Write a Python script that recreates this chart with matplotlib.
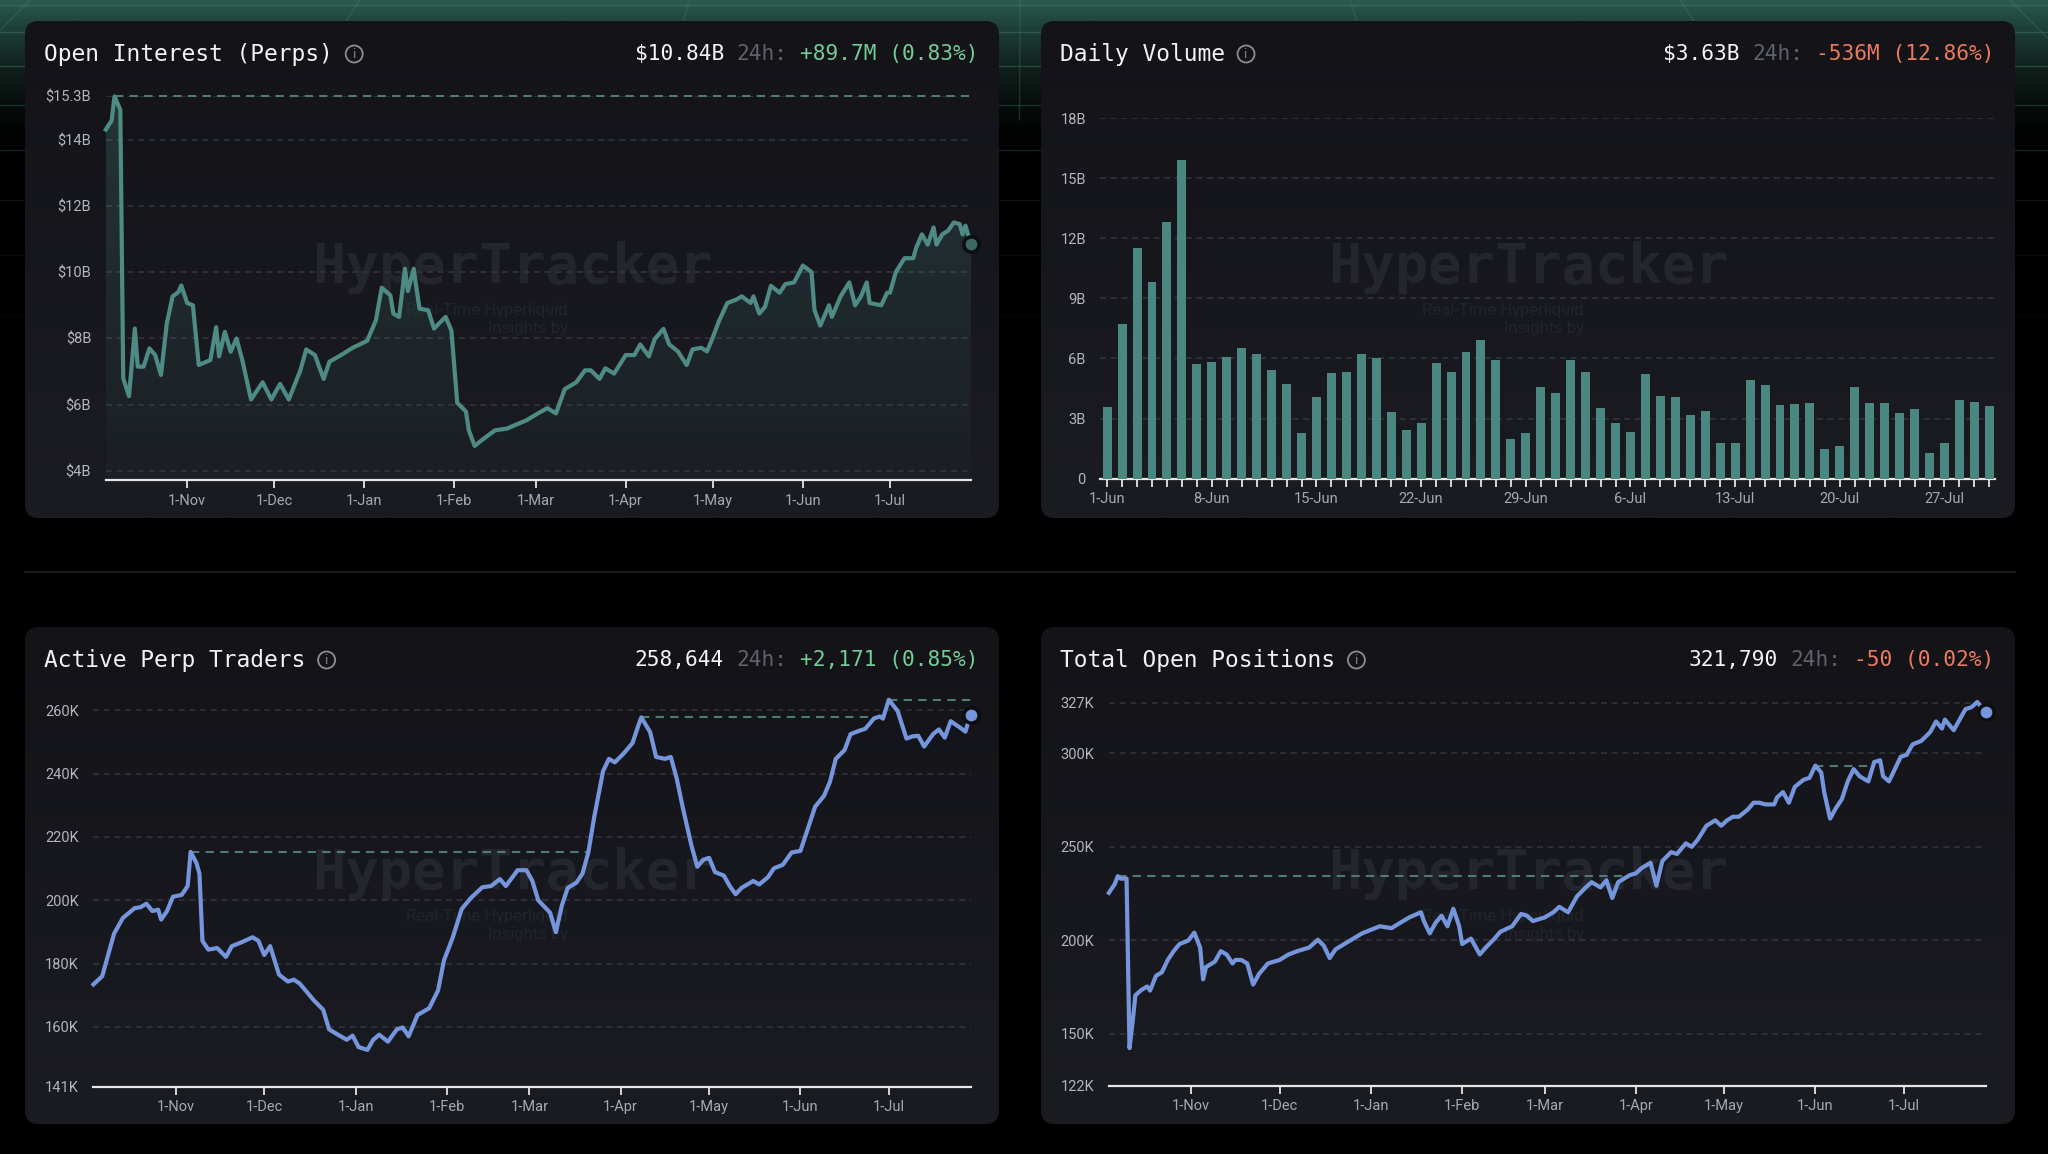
import numpy as np
import pandas as pd
import matplotlib
matplotlib.use("Agg")
import matplotlib.pyplot as plt
import matplotlib.dates as mdates
from matplotlib.patches import FancyBboxPatch, Circle

plt.rcParams["font.family"] = ["Roboto", "DejaVu Sans"]

# =====================
# data
# =====================
START = np.datetime64("2024-10-04")
MONTH_TICKS = ["2024-11-01", "2024-12-01", "2025-01-01", "2025-02-01", "2025-03-01",
               "2025-04-01", "2025-05-01", "2025-06-01", "2025-07-01"]

# open interest, $B (day offset from START)
OI_DAY = [0, 2, 3, 4, 5, 6, 8, 10, 11, 13, 15, 17, 19, 21, 23, 25, 26, 28, 30, 32,
          36, 38, 39, 41, 43, 45, 47, 50, 54, 57, 60, 63, 67, 69, 72, 75, 77, 81, 85, 90,
          93, 95, 98, 99, 101, 103, 104, 106, 108, 111, 113, 117, 119, 121, 124, 125, 127, 130, 134, 138,
          142, 145, 148, 152, 155, 158, 162, 165, 167, 170, 172, 175, 179, 182, 184, 187, 189, 192, 194, 197,
          200, 202, 205, 207, 209, 211, 214, 217, 219, 222, 223, 225, 227, 229, 232, 234, 237, 240, 243, 244,
          246, 249, 250, 253, 256, 258, 260, 262, 263, 267, 269, 270, 272, 275, 278, 279, 281, 283, 285, 286,
          288, 290, 292, 294, 295, 296, 297, 298]
OI_VAL = [14.3, 14.57, 15.3, 15.1, 14.9, 6.8, 6.26, 8.3, 7.15, 7.15, 7.7, 7.5, 6.9, 8.45, 9.27, 9.4, 9.6, 9.07, 9.0, 7.2,
          7.35, 8.34, 7.46, 8.2, 7.6, 8.0, 7.35, 6.16, 6.68, 6.16, 6.63, 6.16, 7.04, 7.67, 7.5, 6.78, 7.3, 7.5, 7.72, 7.93,
          8.55, 9.53, 9.3, 8.75, 8.65, 10.1, 9.43, 10.1, 8.9, 8.85, 8.3, 8.65, 8.24, 6.06, 5.8, 5.23, 4.76, 4.97, 5.23, 5.28,
          5.43, 5.54, 5.7, 5.9, 5.74, 6.47, 6.68, 7.04, 7.04, 6.78, 7.1, 6.94, 7.5, 7.5, 7.82, 7.46, 7.98, 8.29, 7.82, 7.61,
          7.2, 7.67, 7.72, 7.61, 8.03, 8.5, 9.07, 9.17, 9.27, 9.07, 9.27, 8.75, 8.96, 9.59, 9.38, 9.64, 9.69, 10.2, 10.0, 8.86,
          8.39, 9.0, 8.65, 9.27, 9.69, 9.0, 9.27, 9.69, 9.07, 9.0, 9.38, 9.38, 10.0, 10.42, 10.42, 10.73, 11.14, 10.83, 11.35, 10.83,
          11.14, 11.25, 11.5, 11.45, 11.14, 11.4, 11.1, 10.84]

# daily volume, $B, from 1-Jun
VOL_START = "2025-06-01"
VOL_VAL = [3.6, 7.7, 11.5, 9.8, 12.8, 15.9, 5.7, 5.8, 6.05, 6.5,
           6.2, 5.4, 4.7, 2.3, 4.05, 5.25, 5.3, 6.2, 6.0, 3.35,
           2.45, 2.8, 5.75, 5.3, 6.3, 6.9, 5.9, 2.0, 2.3, 4.55,
           4.25, 5.9, 5.3, 3.55, 2.8, 2.35, 5.2, 4.1, 4.05, 3.2,
           3.4, 1.8, 1.8, 4.9, 4.65, 3.65, 3.7, 3.75, 1.5, 1.65,
           4.55, 3.75, 3.75, 3.3, 3.5, 1.27, 1.77, 3.93, 3.8, 3.63]

# active perp traders, K
TR_DAY = [0, 3, 5, 7, 10, 14, 16, 18, 20, 22, 23, 25, 27, 30, 32, 33, 35, 36, 37, 39,
          42, 45, 47, 50, 54, 56, 58, 60, 63, 66, 68, 70, 73, 75, 78, 80, 83, 86, 88, 90,
          93, 95, 97, 100, 103, 105, 107, 110, 114, 117, 119, 122, 125, 128, 132, 135, 138, 140, 144, 147,
          149, 151, 155, 157, 159, 161, 164, 166, 168, 170, 173, 175, 177, 180, 183, 185, 186, 189, 191, 194,
          196, 198, 200, 203, 205, 207, 209, 211, 214, 216, 218, 220, 224, 226, 229, 231, 234, 237, 240, 243,
          245, 248, 250, 252, 255, 257, 260, 262, 265, 267, 268, 270, 273, 276, 278, 280, 282, 285, 287, 289,
          291, 294, 296, 297, 298]
TR_VAL = [173.4, 176, 182.7, 189.4, 194.4, 197.5, 197.8, 198.9, 196.6, 197, 193.9, 196.6, 201.1, 201.7, 204.5, 215.3, 211.7, 208.4, 187.2, 184.4,
          184.9, 182.1, 185.5, 186.6, 188.3, 187.2, 182.7, 185.5, 176.5, 174.3, 174.9, 173.7, 170.4, 168.2, 165.4, 159.2, 157.5, 155.9, 157.2, 153.6,
          152.7, 155.9, 157.5, 155.3, 159.2, 159.8, 157, 163.7, 165.9, 171.5, 181, 188.3, 197.2, 200.6, 204.1, 204.5, 206.7, 204.5, 209.5, 209.5,
          206.1, 200, 196.1, 189.9, 198.3, 203.9, 205.6, 208.4, 215.1, 226.3, 240.8, 244.7, 243.6, 246.4, 249.7, 255.3, 257.8, 253.1, 245.3, 244.7,
          245.3, 238.5, 229.6, 217.3, 210.6, 212.8, 213.4, 208.9, 207.8, 204.5, 201.9, 203.9, 206.1, 205, 207.3, 210.1, 211.2, 215.1, 215.6, 224,
          229.6, 233, 237.4, 244.7, 247.5, 252.5, 253.6, 254.2, 257.5, 258.1, 257.4, 263.4, 259.8, 251.1, 251.8, 252, 248.6, 252.5, 254, 251.4,
          256.6, 254.7, 253.3, 256.4, 258.6]

# total open positions, K
POS_DAY = [0, 2, 3, 4, 6, 7, 8, 9, 11, 13, 14, 16, 18, 20, 22, 24, 27, 29, 31, 32,
           33, 36, 38, 40, 42, 43, 45, 47, 49, 51, 54, 58, 61, 64, 68, 71, 73, 75, 77, 81,
           86, 89, 92, 96, 99, 102, 106, 107, 109, 111, 113, 115, 117, 119, 120, 123, 126, 128, 131, 133,
           137, 140, 142, 144, 148, 151, 153, 156, 159, 162, 164, 167, 169, 171, 173, 177, 179, 181, 184, 186,
           188, 191, 193, 196, 198, 200, 203, 206, 208, 210, 212, 214, 217, 219, 221, 223, 226, 227, 229, 231,
           233, 236, 238, 240, 242, 243, 245, 247, 249, 251, 253, 255, 258, 260, 262, 263, 265, 267, 269, 271,
           273, 276, 279, 281, 283, 284, 287, 289, 291, 293, 295, 296, 298]
POS_VAL = [225.3, 230, 234.2, 232.9, 232.9, 142.2, 155.4, 170.5, 173.3, 175.2, 173, 180.9, 182.8, 189.4, 194.1, 197.9, 199.8, 204, 196, 179,
           185.6, 188.5, 194.1, 192.3, 187.5, 189.4, 189.4, 187.5, 176.2, 181.9, 187.5, 189.4, 192.3, 194.1, 196, 200.2, 197, 190.4, 195.1, 198.9,
           203.6, 205.5, 207.4, 206.4, 209.3, 212.1, 214.9, 210.2, 203.6, 209.3, 213.1, 207.4, 216.8, 207.4, 197.9, 200.8, 192.3, 196, 200.8, 204.5,
           207.4, 214, 213.1, 210.2, 212.1, 214.9, 217.8, 214.9, 223.4, 228.2, 231, 228.2, 232, 222.5, 231, 234.8, 235.7, 238.6, 241.4, 229.1,
           242.3, 247.1, 246.1, 251.8, 249.9, 253.7, 261.2, 264.1, 261.2, 264.1, 266, 266, 269.8, 273.5, 273.5, 272.6, 272.6, 276.4, 279.2, 273.5,
           282, 285.8, 286.8, 293.4, 289.6, 279.2, 265, 270.7, 275.4, 284.9, 291.5, 287.7, 284.9, 295.3, 296.2, 287.7, 284.9, 291.5, 298.1, 299.1,
           304.7, 306.6, 311.3, 317, 313.2, 318, 312.3, 318, 323.6, 324.6, 327.4, 325.5, 321.8]

OI_TICKS = [4, 6, 8, 10, 12, 14, 15.3]
VOL_TICKS = [0, 3, 6, 9, 12, 15, 18]
TR_TICKS = [141, 160, 180, 200, 220, 240, 260]
POS_TICKS = [122, 150, 200, 250, 300, 327]

# =====================
# style
# =====================
W, H = 2048, 1154
TEAL = "#4e8b84"
BLUE = "#7596dc"
GRID = "#34363e"
ATH = "#4f7b75"
AXIS = "#e6e6e6"
TICK = "#a6a9b1"
GREEN = "#74cc97"
RED = "#ec7a5f"
GREY = "#5f626a"
MONO = "DejaVu Sans Mono"
PW, PH = 974, 497


def fig_box(left, top, right, bottom):
    return [left / W, 1 - bottom / H, (right - left) / W, (bottom - top) / H]


def month_label(d):
    t = pd.Timestamp(d)
    return f"{t.day}-{t:%b}"


def ath_segments(x, y, min_len=12):
    # dashed "previous high" lines: from a running max until it is taken out
    segs = []
    m, p, down = y[0], 0, False
    for i in range(1, len(y)):
        if y[i] >= m:
            if down:
                xc = x[i - 1] + (x[i] - x[i - 1]) * (m - y[i - 1]) / (y[i] - y[i - 1])
                if xc - x[p] >= min_len:
                    segs.append((x[p], xc, m))
            m, p, down = y[i], i, False
        else:
            down = True
    if down and x[-1] - x[p] >= min_len:
        segs.append((x[p], x[-1], m))
    return segs


def style_axes(ax, yticks, ylabels, ylim):
    ax.set_facecolor("none")
    for s in ["top", "right", "left"]:
        ax.spines[s].set_visible(False)
    ax.spines["bottom"].set_color(AXIS)
    ax.spines["bottom"].set_linewidth(1.6)
    ax.set_ylim(*ylim)
    ax.set_yticks(yticks)
    ax.set_yticklabels(ylabels)
    ax.tick_params(axis="y", length=0, pad=10.5, labelsize=10.5, labelcolor="#b3b6bd")
    ax.tick_params(axis="x", length=6, width=1.3, color=AXIS, pad=3.5,
                   labelsize=10.5, labelcolor=TICK)
    for v in yticks:
        if v > ylim[0] + 1e-9:
            ax.axhline(v, color=GRID, lw=1.1, ls=(0, (4, 3)), zorder=0)


def header(bg, x0, y0, title, value, change, ccolor):
    fs = 16.5
    cw = 0.602 * fs * 100 / 72
    ty = y0 + 33
    bg.text(x0 + 19.5, ty, title, family=MONO, fontsize=fs, color="#f2f2f2", va="center", zorder=8)
    cx = x0 + 19.5 + len(title) * cw + 20
    bg.add_patch(Circle((cx, ty), 8.5, fill=False, ec="#8b8e96", lw=1.3, zorder=8))
    bg.text(cx, ty + 0.5, "i", family="DejaVu Sans", fontsize=8.5, color="#8b8e96",
            ha="center", va="center", zorder=8)
    hs = 15.2
    hw = 0.602 * hs * 100 / 72
    xr = x0 + 953
    bg.text(xr, ty, change, family=MONO, fontsize=hs, color=ccolor, ha="right", va="center", zorder=8)
    xr -= (len(change) + 1) * hw
    bg.text(xr, ty, "24h:", family=MONO, fontsize=hs, color=GREY, ha="right", va="center", zorder=8)
    xr -= 5 * hw
    bg.text(xr, ty, value, family=MONO, fontsize=hs, color="#f5f5f5", ha="right", va="center", zorder=8)


# =====================
# figure + background
# =====================
fig = plt.figure(figsize=(W / 100, H / 100), dpi=100)
fig.patch.set_facecolor("black")
bg = fig.add_axes([0, 0, 1, 1], zorder=-10)
bg.set_xlim(0, W)
bg.set_ylim(H, 0)
bg.axis("off")

# green glow band on top
t = np.linspace(0, 1, 160)[:, None]
band = np.zeros((160, 2, 4))
band[..., 0] = 0.17
band[..., 1] = 0.36
band[..., 2] = 0.31
band[..., 3] = (1 - t) ** 1.8
bg.imshow(band, extent=(0, W, 160, 0), aspect="auto", zorder=0)
for yy in [5, 32, 66, 105, 150, 200, 255, 315]:
    bg.plot([0, W], [yy, yy], color="#4a8272", lw=1, alpha=0.45 * max(0.1, 1 - yy / 330), zorder=1)
for xx in np.arange(-300, W + 400, 330):
    bg.plot([xx, xx + (xx - W / 2) * 0.12], [0, 120], color="#4a8272", lw=1, alpha=0.3, zorder=1)

bg.plot([25, 2015], [572, 572], color="#1c1e23", lw=1.2, zorder=1)

PANELS = [(25, 21), (1041, 21), (25, 627), (1041, 627)]
g = np.linspace(0, 1, 200)[:, None]
pgrad = np.zeros((200, 2, 3))
pgrad[..., 0] = (19 + 8 * g) / 255
pgrad[..., 1] = (19 + 9 * g) / 255
pgrad[..., 2] = (24 + 10 * g) / 255
for x0, y0 in PANELS:
    panel = FancyBboxPatch((x0, y0), PW, PH, boxstyle="round,pad=0,rounding_size=14",
                           fc="#141419", ec="none", zorder=2)
    bg.add_patch(panel)
    im = bg.imshow(pgrad, extent=(x0, x0 + PW, y0 + PH, y0), aspect="auto", zorder=3)
    im.set_clip_path(panel)
    bg.text(x0 + 487, y0 + 246, "HyperTracker", family=MONO, weight="bold", fontsize=40,
            color="#23262c", ha="center", va="center", zorder=4)
    bg.text(x0 + 543, y0 + 289, "Real-Time Hyperliquid", fontsize=12, color="#212429",
            ha="right", va="center", zorder=4)
    bg.text(x0 + 543, y0 + 307, "Insights by", fontsize=12, color="#212429",
            ha="right", va="center", zorder=4)

header(bg, 25, 21, "Open Interest (Perps)", "$10.84B", "+89.7M (0.83%)", GREEN)
header(bg, 1041, 21, "Daily Volume", "$3.63B", "-536M (12.86%)", RED)
header(bg, 25, 627, "Active Perp Traders", "258,644", "+2,171 (0.85%)", GREEN)
header(bg, 1041, 627, "Total Open Positions", "321,790", "-50 (0.02%)", RED)

month_x = mdates.date2num(np.array(MONTH_TICKS, dtype="datetime64[D]"))
month_lbl = [month_label(d) for d in MONTH_TICKS]


def line_panel(box, days, vals, color, yticks, ylabels, ylim, fill=False, mfc=None):
    ax = fig.add_axes(fig_box(*box))
    x = mdates.date2num(START + np.array(days, dtype="timedelta64[D]"))
    y = np.array(vals, dtype=float)
    style_axes(ax, yticks, ylabels, ylim)
    ax.set_xlim(x[0], x[-1])
    ax.set_xticks(month_x)
    ax.set_xticklabels(month_lbl)
    if fill:
        poly = ax.fill_between(x, y, ylim[0], color="none", lw=0)
        gr = np.zeros((100, 2, 4))
        tt = np.linspace(0, 1, 100)[:, None]
        gr[..., 0], gr[..., 1], gr[..., 2] = 0.30, 0.54, 0.51
        gr[..., 3] = 0.26 * (1 - tt) + 0.03
        im = ax.imshow(gr, extent=(x[0], x[-1], ylim[0], max(y)), aspect="auto",
                       origin="upper", zorder=1)
        im.set_clip_path(poly.get_paths()[0], ax.transData)
    for xa, xb, m in ath_segments(x, y):
        ax.plot([xa, xb], [m, m], color=ATH, lw=1.5, ls=(0, (4, 3)), zorder=2, clip_on=False)
    ax.plot(x, y, color=color, lw=3, solid_joinstyle="round", zorder=3, clip_on=False)
    ax.plot(x[-1], y[-1], "o", ms=11, mfc=mfc or color, mec="#0c0d10", mew=2.5,
            zorder=5, clip_on=False)
    return ax


line_panel((105.8, 96.4, 971.3, 480.4), OI_DAY, OI_VAL, TEAL, OI_TICKS,
           [f"${v:g}B" for v in OI_TICKS], (3.72, max(OI_VAL)), fill=True, mfc="#3b6661")
line_panel((93.4, 699.7, 971.3, 1086.9), TR_DAY, TR_VAL, BLUE, TR_TICKS,
           [f"{v}K" for v in TR_TICKS], (141, max(TR_VAL)))
line_panel((1108.9, 702.0, 1986.1, 1085.9), POS_DAY, POS_VAL, BLUE, POS_TICKS,
           [f"{v}K" for v in POS_TICKS], (122, max(POS_VAL)))

# daily volume bars
axv = fig.add_axes(fig_box(1100.4, 118.1, 1995.3, 478.6))
vdates = pd.date_range(VOL_START, periods=len(VOL_VAL))
xi = np.arange(len(VOL_VAL))
style_axes(axv, VOL_TICKS, [f"{v}B" if v else "0" for v in VOL_TICKS], (0, 18))
axv.bar(xi, VOL_VAL, width=0.6, color="#4a8780", zorder=3)
axv.set_xlim(-0.45, len(VOL_VAL) - 0.6)
axv.set_xticks(xi)
axv.set_xticklabels([f"{d.day}-{d:%b}" if i % 7 == 0 else "" for i, d in enumerate(vdates)])

plt.savefig("out.png", dpi=100, facecolor="black")
plt.close()
